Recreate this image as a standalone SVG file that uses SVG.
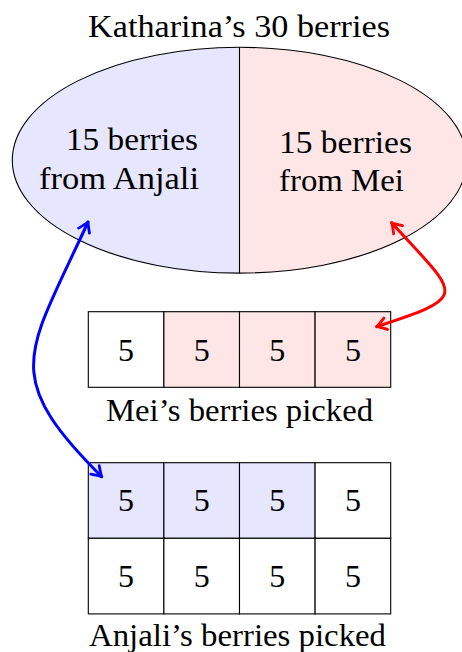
<svg xmlns="http://www.w3.org/2000/svg" width="462" height="652" viewBox="0 0 462 652">
  <style>
    text { font-family: "Liberation Serif", "DejaVu Serif", serif; font-size: 32px; fill: #000; }
    .c { text-anchor: middle; }
    .cell { stroke: #000; stroke-width: 1.1; }
    .wb { fill: #ffffff; }
    .bl { fill: #e6e6ff; }
    .rd { fill: #ffe6e6; }
    .conn { fill: none; stroke-width: 3; stroke-linecap: round; }
  </style>
  <defs>
    <marker id="ahB" markerUnits="userSpaceOnUse" viewBox="-12 -8 14 16" markerWidth="14" markerHeight="16" refX="0" refY="0" orient="auto-start-reverse" overflow="visible">
      <path d="M -9.5 -6 Q -3 -1.5 0 0 Q -3 1.5 -9.5 6" fill="none" stroke="#0000ff" stroke-width="2.8" stroke-linecap="round" stroke-linejoin="round"/>
    </marker>
    <marker id="ahR" markerUnits="userSpaceOnUse" viewBox="-12 -8 14 16" markerWidth="14" markerHeight="16" refX="0" refY="0" orient="auto-start-reverse" overflow="visible">
      <path d="M -9.5 -6 Q -3 -1.5 0 0 Q -3 1.5 -9.5 6" fill="none" stroke="#ff0000" stroke-width="2.8" stroke-linecap="round" stroke-linejoin="round"/>
    </marker>
  </defs>
  <rect x="0" y="0" width="462" height="652" fill="#ffffff"/>

  <g id="total">
    <text x="88" y="36.5" textLength="302" lengthAdjust="spacingAndGlyphs">Katharina’s 30 berries</text>
    <path d="M 239.5 47.3 A 227.2 112.9 0 0 0 239.5 273.1 Z" class="bl"/>
    <path d="M 239.5 47.3 A 227.2 112.9 0 0 1 239.5 273.1 Z" class="rd"/>
    <ellipse cx="239.5" cy="160.2" rx="227.2" ry="112.9" fill="none" stroke="#000" stroke-width="1.1"/>
    <line x1="239.5" y1="47.3" x2="239.5" y2="273.1" stroke="#000" stroke-width="1.1"/>
  </g>

  <g id="anjali-part">
    <text x="66" y="149.5" textLength="132" lengthAdjust="spacingAndGlyphs">15 berries</text>
    <text x="39" y="188.5" textLength="160" lengthAdjust="spacingAndGlyphs">from Anjali</text>
  </g>

  <g id="mei-part">
    <text x="279" y="152.5" textLength="133" lengthAdjust="spacingAndGlyphs">15 berries</text>
    <text x="279" y="191" textLength="125" lengthAdjust="spacingAndGlyphs">from Mei</text>
  </g>

  <g id="mei-grid">
    <rect class="cell wb" x="88.3" y="311.7" width="75.6" height="75.6"/>
    <rect class="cell rd" x="163.9" y="311.7" width="75.6" height="75.6"/>
    <rect class="cell rd" x="239.5" y="311.7" width="75.6" height="75.6"/>
    <rect class="cell rd" x="315.1" y="311.7" width="75.6" height="75.6"/>
    <text class="c" x="126.1" y="360.5">5</text>
    <text class="c" x="201.7" y="360.5">5</text>
    <text class="c" x="277.3" y="360.5">5</text>
    <text class="c" x="352.9" y="360.5">5</text>
    <text x="106" y="420.5" textLength="267" lengthAdjust="spacingAndGlyphs">Mei’s berries picked</text>
  </g>

  <g id="anjali-grid">
    <rect class="cell bl" x="88.3" y="462.7" width="75.6" height="75.6"/>
    <rect class="cell bl" x="163.9" y="462.7" width="75.6" height="75.6"/>
    <rect class="cell bl" x="239.5" y="462.7" width="75.6" height="75.6"/>
    <rect class="cell wb" x="315.1" y="462.7" width="75.6" height="75.6"/>
    <rect class="cell wb" x="88.3" y="538.3" width="75.6" height="75.6"/>
    <rect class="cell wb" x="163.9" y="538.3" width="75.6" height="75.6"/>
    <rect class="cell wb" x="239.5" y="538.3" width="75.6" height="75.6"/>
    <rect class="cell wb" x="315.1" y="538.3" width="75.6" height="75.6"/>
    <text class="c" x="126.1" y="511">5</text>
    <text class="c" x="201.7" y="511">5</text>
    <text class="c" x="277.3" y="511">5</text>
    <text class="c" x="352.9" y="511">5</text>
    <text class="c" x="126.1" y="586.8">5</text>
    <text class="c" x="201.7" y="586.8">5</text>
    <text class="c" x="277.3" y="586.8">5</text>
    <text class="c" x="352.9" y="586.8">5</text>
    <text x="89" y="646" textLength="297" lengthAdjust="spacingAndGlyphs">Anjali’s berries picked</text>
  </g>

  <g id="connectors">
    <path class="conn" stroke="#0000ff" d="M 88 222 C 27 355, -0.5 374.5, 101.7 476.7" marker-start="url(#ahB)" marker-end="url(#ahB)"/>
    <path class="conn" stroke="#ff0000" d="M 391.7 222.7 C 458.7 296.7, 471.7 295.7, 376.7 326.7" marker-start="url(#ahR)" marker-end="url(#ahR)"/>
  </g>
</svg>
